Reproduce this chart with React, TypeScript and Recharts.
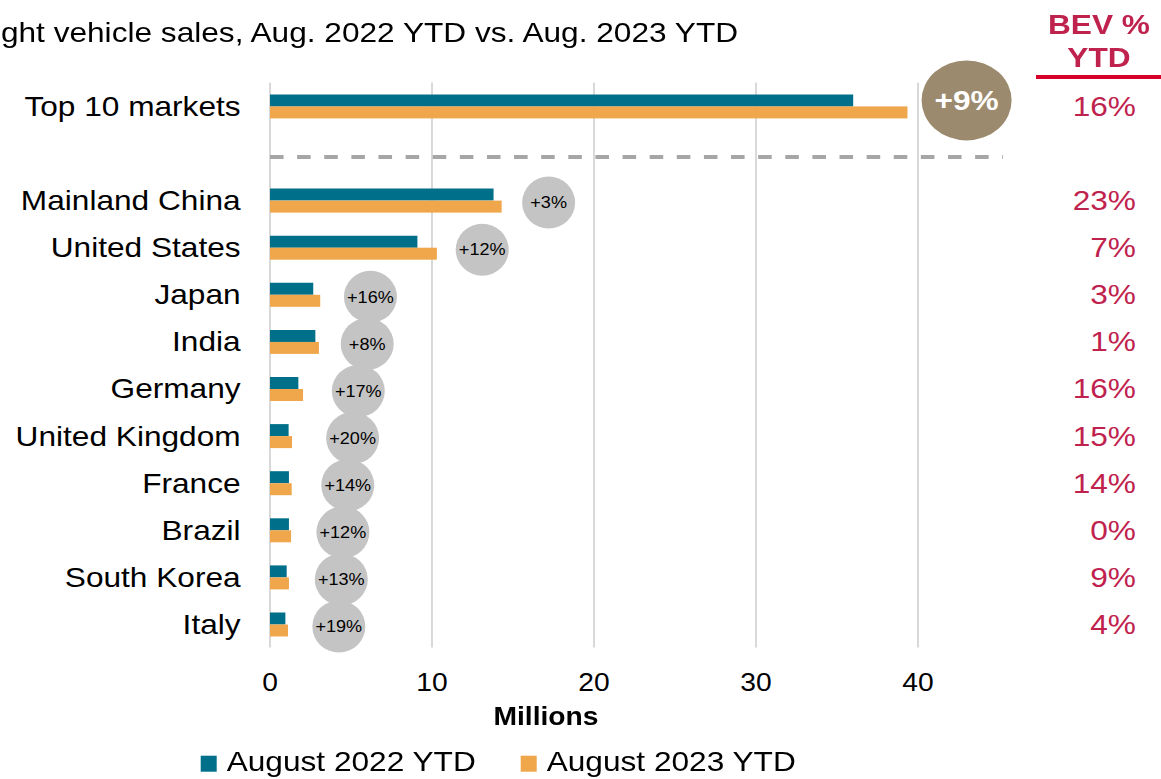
import React from "react";
import {
  BarChart,
  Bar,
  XAxis,
  YAxis,
  CartesianGrid,
  ReferenceLine,
} from "recharts";

// source image is stretched horizontally, so everything is drawn narrower and scaled back in x
const S = 1.13;
const W = 1161 / S;
const H = 779;

const TEAL = "#00708a";
const ORANGE = "#f0a64b";
const CRIMSON = "#c0224e";

const markets = [
  "Top 10 markets",
  "Mainland China",
  "United States",
  "Japan",
  "India",
  "Germany",
  "United Kingdom",
  "France",
  "Brazil",
  "South Korea",
  "Italy",
];
const aug2022 = [36.0, 13.8, 9.1, 2.67, 2.8, 1.75, 1.15, 1.17, 1.17, 1.03, 0.95];
const aug2023 = [39.35, 14.3, 10.3, 3.1, 3.02, 2.04, 1.36, 1.34, 1.3, 1.17, 1.11];
const growth = ["+9%", "+3%", "+12%", "+16%", "+8%", "+17%", "+20%", "+14%", "+12%", "+13%", "+19%"];
// where the growth bubble sits on the x axis (millions)
const bubbleAt = [43.0, 17.2, 13.1, 6.2, 6.0, 5.45, 5.1, 4.8, 4.5, 4.4, 4.25];
const bevShare = ["16%", "23%", "7%", "3%", "1%", "16%", "15%", "14%", "0%", "9%", "4%"];
const xTicks = [0, 10, 20, 30, 40];

const rows = markets.map((name, i) => ({
  name,
  aug22: aug2022[i],
  aug23: aug2023[i],
  growth: growth[i],
  bubbleAt: bubbleAt[i],
  bev: bevShare[i],
  total: i === 0,
}));
// empty row between the total and the single markets, the dashed line goes there
const SPACER = " ";
const data: any[] = [rows[0], { name: SPACER }, ...rows.slice(1)];

const BubbleBar = (props: any) => {
  const { x, y, width, height, fill, payload } = props;
  if (!payload || payload.aug23 == null) return null;
  const k = width / payload.aug23;
  const cx = x + payload.bubbleAt * k;
  const big = payload.total;
  const cy = big ? y - 6 : y + 2;
  return (
    <g>
      <rect x={x} y={y} width={width} height={height} fill={fill} />
      <ellipse
        cx={cx}
        cy={cy}
        rx={big ? 45 / S : 26.5 / S}
        ry={big ? 40 : 26}
        fill={big ? "#9c8a6e" : "#c4c4c4"}
      />
      <text
        x={cx}
        y={cy}
        dy="0.36em"
        textAnchor="middle"
        fontSize={big ? 28 : 16}
        fontWeight={big ? "bold" : "normal"}
        fill={big ? "#ffffff" : "#000000"}
      >
        {payload.growth}
      </text>
    </g>
  );
};

const BevTick = (props: any) => {
  const { y, payload } = props;
  const row = data.find((d) => d.name === payload.value);
  if (!row || !row.bev) return null;
  return (
    <text
      x={1136 / S}
      y={y}
      dy="0.355em"
      textAnchor="end"
      fontSize={28}
      fill={CRIMSON}
    >
      {row.bev}
    </text>
  );
};

// dashed divider sits a little below the middle of the spacer row
const Divider = (props: any) => {
  const { x1, x2, y1 } = props;
  return (
    <line
      x1={x1}
      x2={x2 + 4 / S}
      y1={y1 + 4}
      y2={y1 + 4}
      stroke="#a6a6a6"
      strokeWidth={4}
      strokeDasharray="12 12"
    />
  );
};

export default function App() {
  return (
    <div
      style={{
        position: "absolute",
        left: 0,
        top: 0,
        width: W,
        height: H,
        transform: `scaleX(${S})`,
        transformOrigin: "0 0",
        fontFamily: "'Liberation Sans', Arial, sans-serif",
        background: "#fff",
      }}
    >
      <BarChart
        width={W}
        height={H}
        data={data}
        layout="vertical"
        margin={{ top: 82.4, right: 0, left: 0, bottom: 91.4 }}
        barGap={0}
        barSize={12}
      >
        <CartesianGrid
          horizontal={false}
          verticalValues={xTicks}
          stroke="#d9d9d9"
          strokeWidth={1.8}
        />
        <XAxis
          type="number"
          domain={[0, 45]}
          ticks={xTicks}
          axisLine={false}
          tickLine={false}
          tickMargin={20}
          height={40}
          tick={{ fontSize: 25, fill: "#000" }}
        />
        <YAxis
          type="category"
          dataKey="name"
          width={270 / S}
          axisLine={false}
          tickLine={false}
          tickMargin={20}
          interval={0}
          tick={{ fontSize: 28, fill: "#000" }}
        />
        <YAxis
          yAxisId="bev"
          orientation="right"
          type="category"
          dataKey="name"
          width={W - 999 / S}
          axisLine={false}
          tickLine={false}
          interval={0}
          tick={<BevTick />}
        />
        <ReferenceLine y={SPACER} shape={<Divider />} />
        <Bar dataKey="aug22" name="August 2022 YTD" fill={TEAL} isAnimationActive={false} />
        <Bar
          dataKey="aug23"
          name="August 2023 YTD"
          fill={ORANGE}
          shape={<BubbleBar />}
          isAnimationActive={false}
        />
      </BarChart>

      <svg
        width={W}
        height={H}
        style={{ position: "absolute", left: 0, top: 0, pointerEvents: "none", overflow: "visible" }}
      >
        <text x={-21} y={42} fontSize={28} fill="#000">
          Light vehicle sales, Aug. 2022 YTD vs. Aug. 2023 YTD
        </text>

        <text x={1099 / S} y={34} fontSize={28} fontWeight="bold" fill={CRIMSON} textAnchor="middle">
          BEV %
        </text>
        <text x={1099 / S} y={67} fontSize={28} fontWeight="bold" fill={CRIMSON} textAnchor="middle">
          YTD
        </text>
        <rect x={1036 / S} y={75} width={W - 1036 / S} height={4} fill="#d7002a" />

        <text x={546 / S} y={725} fontSize={25} fontWeight="bold" fill="#000" textAnchor="middle">
          Millions
        </text>

        {/* legend */}
        <rect x={200.7 / S} y={755.7} width={16 / S} height={16} fill={TEAL} />
        <text x={226.7 / S} y={771} fontSize={28} fill="#000">
          August 2022 YTD
        </text>
        <rect x={520.7 / S} y={755.7} width={16 / S} height={16} fill={ORANGE} />
        <text x={546.7 / S} y={771} fontSize={28} fill="#000">
          August 2023 YTD
        </text>
      </svg>
    </div>
  );
}
